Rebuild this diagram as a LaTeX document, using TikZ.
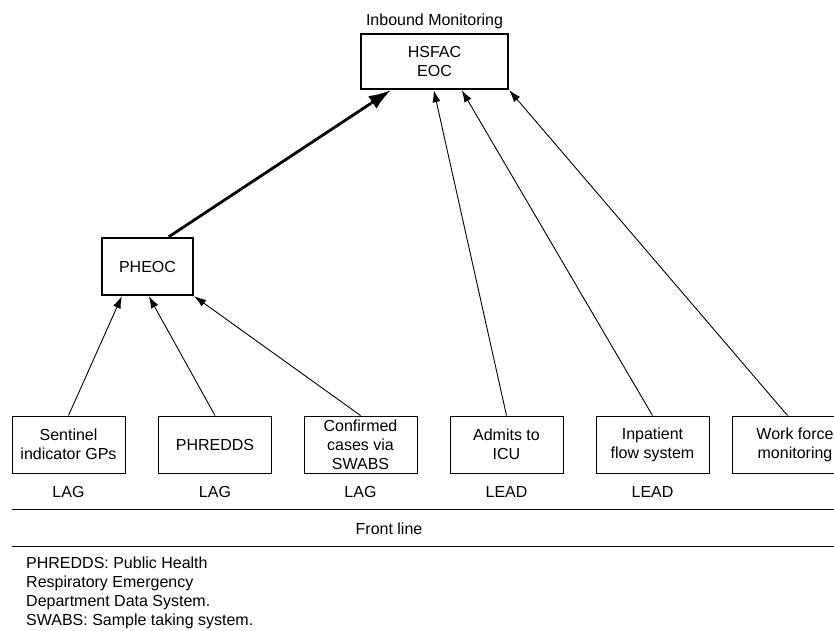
\documentclass[tikz,border=0pt]{standalone}
\usepackage{fontspec}
\setmainfont{Liberation Sans}
\usetikzlibrary{arrows.meta}

\begin{document}
\begin{tikzpicture}[
	x=1pt, y=-1pt,
	box/.style={
		draw, line width=1pt, rectangle,
		minimum width=113pt, minimum height=57pt,
		font=\fontsize{16}{19}\selectfont, align=center, inner sep=2pt
	},
	hub/.style={box, line width=2.4pt},
	arr/.style={-{Latex[length=12pt,width=8pt]}, line width=0.9pt},
	hubarr/.style={-{Latex[length=22pt,width=15pt]}, line width=2.8pt},
	lbl/.style={font=\fontsize{16}{19}\selectfont, anchor=base, inner sep=0pt},
	]
	\clip (0,0) rectangle (834,630);
	\def\by{444.5}
	\node[lbl] (inbound) at (434.5,25) {Inbound Monitoring};
	\node[hub, minimum width=147pt, minimum height=55pt] (hsfac) at (434.5,61.5)
	{HSFAC\\EOC};
	\node[hub, minimum width=91pt] (pheoc) at (147.5,266.5)
	{PHEOC};
	\node[box] (sentinel) at (68.5,\by)  {Sentinel\\indicator GPs};
	\node[box] (phredds)  at (215,\by)   {PHREDDS};
	\node[box] (swabs)    at (360.5,\by) {Confirmed\\cases via\\SWABS};
	\node[box] (icu)      at (506.5,\by) {Admits to\\ICU};
	\node[box] (flow)     at (652.5,\by) {Inpatient\\flow system};
	\node[box, minimum width=126pt] (work) at (795,\by) {Work force\\monitoring};
	% lag / lead
	\node[lbl] (lag1)  at (68.5,497)  {LAG};
	\node[lbl] (lag2)  at (215,497)   {LAG};
	\node[lbl] (lag3)  at (360.5,497) {LAG};
	\node[lbl] (lead1) at (506.5,497) {LEAD};
	\node[lbl] (lead2) at (652.5,497) {LEAD};
	% front line
	\coordinate (rule1w) at (12,509);
	\coordinate (rule1e) at (840,509);
	\coordinate (rule2w) at (12,546);
	\coordinate (rule2e) at (840,546);
	\draw[line width=1pt] (rule1w) -- (rule1e);
	\draw[line width=1pt] (rule2w) -- (rule2e);
	\node[lbl] (front) at (389,534) {Front line};
	\node[font=\fontsize{16}{19.2}\selectfont, align=left, anchor=north west, inner sep=0pt]
	(legend) at (26,556.5)
	{PHREDDS: Public Health\\Respiratory Emergency\\Department Data System.\\SWABS: Sample taking system.};
	\draw[hubarr] ([xshift=68pt]pheoc.north west) -- ([xshift=31pt]hsfac.south west);
	\draw[arr] (sentinel.north) -- ([xshift=21pt]pheoc.south west);
	\draw[arr] (phredds.north)  -- ([xshift=48pt]pheoc.south west);
	\draw[arr] (swabs.north)    -- (pheoc.south east);
	\draw[arr] (icu.north)      -- ([xshift=74pt]hsfac.south west);
	\draw[arr] (flow.north)     -- ([xshift=102pt]hsfac.south west);
	\draw[arr] ([xshift=56pt]work.north west) -- (hsfac.south east);
\end{tikzpicture}
\end{document}
